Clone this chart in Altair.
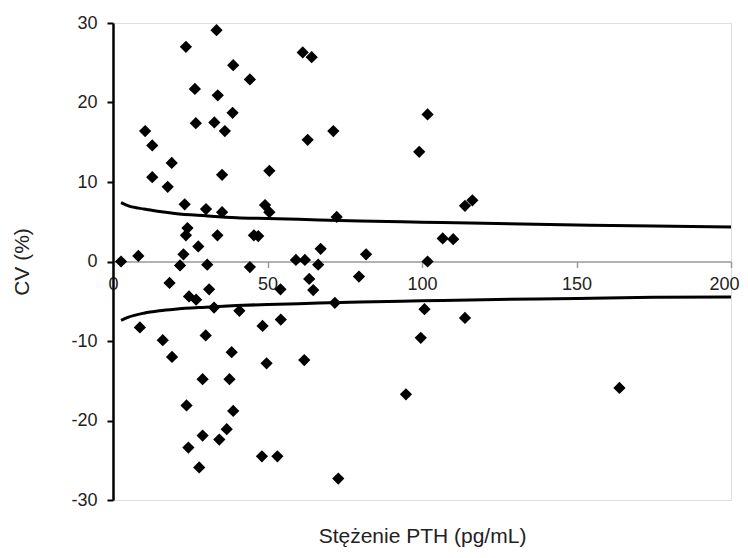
import altair as alt
import pandas as pd

# Scatter points: PTH concentration (pg/mL) vs CV (%)
pth = [33.5, 23.6, 38.9, 44.3, 26.5, 33.9, 38.7, 26.8, 32.8, 36.2,
       10.4, 12.7, 19.0, 12.7, 35.3, 50.6, 17.7, 23.2, 30.1, 35.3,
       49.2, 50.6, 24.1, 23.6, 33.8, 45.6, 47.0, 27.6, 8.2, 22.8,
       2.6, 21.7, 30.5, 44.3, 18.3, 24.6, 26.9, 31.1, 32.7, 40.9,
       54.2, 54.3, 48.4, 8.7, 16.1, 30.0, 19.1, 38.4, 49.7, 29.0,
       37.7, 23.8, 38.9, 36.8, 29.0, 34.4, 24.4, 27.9, 48.2, 53.2,
       61.4, 64.3, 63.0, 71.3, 101.8, 99.1, 113.9, 116.3, 72.4, 106.7,
       110.1, 67.2, 81.9, 59.2, 62.1, 66.4, 101.8, 63.5, 64.8, 79.6,
       71.8, 100.8, 113.9, 99.6, 61.9, 94.8, 72.9, 163.9]
cv = [29.1, 27.0, 24.7, 22.9, 21.7, 20.9, 18.7, 17.4, 17.5, 16.4,
      16.4, 14.6, 12.4, 10.6, 10.9, 11.4, 9.4, 7.2, 6.6, 6.2,
      7.1, 6.2, 4.2, 3.3, 3.3, 3.3, 3.2, 1.9, 0.7, 0.9,
      0.0, -0.5, -0.4, -0.7, -2.7, -4.4, -4.8, -3.5, -5.8, -6.2,
      -3.5, -7.3, -8.1, -8.3, -9.9, -9.3, -12.0, -11.4, -12.8, -14.8,
      -14.8, -18.1, -18.8, -21.1, -21.9, -22.4, -23.4, -25.9, -24.5, -24.5,
      26.3, 25.7, 15.3, 16.4, 18.5, 13.8, 7.0, 7.7, 5.6, 2.9,
      2.8, 1.6, 0.9, 0.2, 0.2, -0.4, 0.0, -2.2, -3.6, -1.9,
      -5.2, -6.0, -7.1, -9.6, -12.4, -16.7, -27.3, -15.9]

# Limit curves
curve_x = [2.6, 5, 10, 15, 20, 30, 40, 50, 60, 80, 100, 120, 150, 175, 200]
upper_y = [7.4, 7.0, 6.6, 6.3, 6.05, 5.75, 5.5, 5.4, 5.3, 5.1, 4.95, 4.8, 4.6, 4.45, 4.35]
lower_y = [-7.4, -7.0, -6.5, -6.2, -6.0, -5.75, -5.55, -5.4, -5.3, -5.1, -4.95, -4.8, -4.65, -4.5, -4.45]

x_ticks = [0, 50, 100, 150, 200]
y_ticks = [-30, -20, -10, 0, 10, 20, 30]

pts = pd.DataFrame({"pth": pth, "cv": cv})
curves = pd.DataFrame({
    "pth": curve_x + curve_x,
    "cv": upper_y + lower_y,
    "side": ["upper"] * len(curve_x) + ["lower"] * len(curve_x),
})

FONT = "Liberation Sans"
W, H = 618, 477

x_scale = alt.Scale(domain=[0, 200], nice=False)
y_scale = alt.Scale(domain=[-30, 30], nice=False)

x_axis = alt.Axis(
    values=x_ticks, offset=-H / 2, grid=False,
    domainColor="#999999", domainWidth=1.5,
    tickColor="#999999", tickWidth=1.5, tickSize=6,
    labelFont=FONT, labelFontSize=18, labelColor="#222222", labelPadding=8,
    labelFlush=False, labelExpr="'' + datum.value",
    labelAlign={"expr": "datum.value == 200 ? 'right' : 'center'"},
    labelOffset={"expr": "datum.value == 200 ? 8 : 0"},
    title="Stężenie PTH (pg/mL)", titleFont=FONT, titleFontSize=21,
    titleFontWeight="normal", titleColor="#222222",
    titleY=281, titleBaseline="alphabetic",
)
y_axis = alt.Axis(
    values=y_ticks, grid=False,
    domainColor="#000000", domainWidth=2.5,
    tickColor="#000000", tickWidth=2, tickSize=6,
    labelFont=FONT, labelFontSize=18, labelColor="#222222", labelPadding=10,
    labelFlush=False, labelExpr="'' + datum.value",
    title="CV (%)", titleFont=FONT, titleFontSize=21,
    titleFontWeight="normal", titleColor="#222222",
    titleX=-91, titleBaseline="middle",
)

lines = alt.Chart(curves).mark_line(
    color="black", strokeWidth=3, interpolate="monotone"
).encode(
    x=alt.X("pth:Q", scale=x_scale, axis=x_axis),
    y=alt.Y("cv:Q", scale=y_scale, axis=y_axis),
    detail="side:N",
)

points = alt.Chart(pts).mark_point(
    shape="diamond", filled=True, color="black", opacity=1, size=150
).encode(
    x=alt.X("pth:Q", scale=x_scale),
    y=alt.Y("cv:Q", scale=y_scale),
)

chart = alt.layer(lines, points).properties(
    width=W, height=H,
    autosize=alt.AutoSizeParams(type="none"),
    padding={"left": 105, "top": 15, "right": 9, "bottom": 48},
).configure_view(stroke=None).configure(background="white")

chart.save("out.html", embed_options={"renderer": "svg", "actions": False})
